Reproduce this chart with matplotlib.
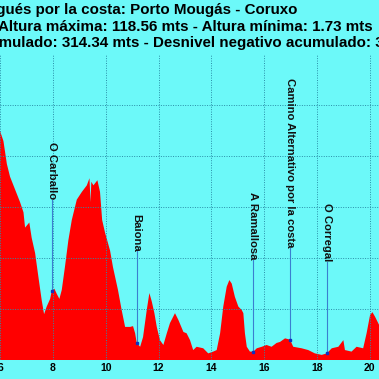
import matplotlib
matplotlib.use("Agg")
import matplotlib.pyplot as plt

# Perfil (km, altura en m)
km = [5.90, 5.99, 6.12, 6.25, 6.37, 6.56, 6.75, 6.88, 6.94, 7.10, 7.19, 7.32, 7.44, 7.57,
      7.66, 7.76, 7.89, 7.95, 8.05, 8.14, 8.24, 8.33, 8.45, 8.58, 8.71, 8.90, 9.09, 9.28,
      9.38, 9.42, 9.45, 9.53, 9.68, 9.78, 9.86, 9.97, 10.16, 10.27, 10.46, 10.60, 10.73,
      10.92, 11.03, 11.11, 11.17, 11.30, 11.41, 11.55, 11.65, 11.74, 11.84, 11.93, 12.05,
      12.18, 12.31, 12.43, 12.62, 12.75, 12.94, 13.06, 13.19, 13.31, 13.44, 13.69, 13.88,
      14.07, 14.20, 14.33, 14.45, 14.58, 14.68, 14.77, 14.89, 15.02, 15.15, 15.21, 15.27,
      15.34, 15.46, 15.59, 15.72, 15.91, 16.09, 16.28, 16.47, 16.60, 16.79, 16.98, 17.10,
      17.42, 17.67, 17.92, 18.18, 18.37, 18.56, 18.81, 19.00, 19.06, 19.31, 19.50, 19.75,
      19.88, 20.01, 20.10, 20.20, 20.39]
altura = [91, 90, 86, 77, 72, 67, 62, 58, 52, 54, 48, 42, 33, 23.5,
          18, 21, 24, 27, 28, 26, 24, 27.5, 36.5, 47, 55, 63, 66, 68.6,
          71.4, 62, 70, 68.6, 70.6, 66, 55, 50, 43, 36.5, 27.5, 19.6, 13,
          13, 13.3, 10.5, 6.7, 5.2, 9, 19.6, 26.3, 23, 18.4, 13, 7.8,
          5.9, 10.5, 14.5, 18.4, 15.7, 11, 10.5, 7.8, 3.9, 5.2, 4.6, 2.6,
          3.3, 3.9, 10.5, 21, 28.8, 31.4, 30, 24.8, 21, 19.6, 18.4, 10.5,
          5.2, 3.3, 3.3, 4.6, 5.2, 5.9, 5.2, 6.7, 7.1, 8.5, 8.0, 5.2,
          4.6, 3.9, 2.6, 2.0, 2.6, 4.6, 5.2, 7.8, 3.9, 3.3, 5.2, 4.6,
          10.5, 17.6, 18.8, 17, 13]

# Puntos de paso
lugares = ["O Carballo", "Baiona", "A Ramallosa", "Camino Alternativo por la costa", "O Corregal"]
lugares_km = [7.95, 11.17, 15.59, 16.98, 18.37]
lugares_alt = [27, 6.7, 3.3, 8.0, 2.6]

xticks = [6, 8, 10, 12, 14, 16, 18, 20]

titulo1 = "Camino Portugués por la costa: Porto Mougás - Coruxo"
titulo2 = "Altura máxima: 118.56 mts - Altura mínima: 1.73 mts"
titulo3 = "Desnivel positivo acumulado: 314.34 mts - Desnivel negativo acumulado: 3"

fondo = "#6CF9F9"
fuente = ["Liberation Sans", "DejaVu Sans"]

fig = plt.figure(figsize=(3.79, 3.79), dpi=100, facecolor=fondo)
ax = fig.add_axes([0, 19 / 379, 1, 305 / 379], facecolor=fondo)

ax.fill_between(km, altura, 0, color="#FF0000", lw=0)
ax.set_xlim(5.99, 20.35)
ax.set_ylim(0, 119.8)

ax.set_xticks(xticks)
ax.set_xticklabels([str(t) for t in xticks], family=fuente, fontweight="bold", fontsize=7.5)
ax.set_yticks([20, 40, 60, 80, 100])
ax.tick_params(axis="x", length=0, pad=2)
ax.tick_params(axis="y", length=0, labelleft=False)
ax.set_axisbelow(False)
ax.grid(True, linestyle=(0, (1, 1.5)), color="#2A8FA8", linewidth=0.7)
for s in ax.spines.values():
    s.set_visible(False)

# Lineas y etiquetas de los puntos de paso
for nombre, x, y in zip(lugares, lugares_km, lugares_alt):
    ax.plot([x, x], [y, y + 36], color="#3A7FD0", lw=0.8, zorder=3)
    ax.plot(x, y, "s", color="#1030C0", ms=2, zorder=4)
    ax.text(x, y + 36, nombre, rotation=270, ha="center", va="bottom",
            family=fuente, fontweight="bold", fontsize=8.1, color="#111111")

# Titulos (recortados por el borde como en el original)
kw = dict(family=fuente, fontweight="bold", fontsize=10.9, color="black", va="center")
fig.text(297 / 379, 1 - 10 / 379, titulo1, ha="right", **kw)
fig.text(373 / 379, 1 - 27 / 379, titulo2, ha="right", **kw)
renderer = fig.canvas.get_renderer()
tmp = fig.text(0, 0, "Desnivel positivo acu", **kw)
ancho = tmp.get_window_extent(renderer).width
tmp.remove()
fig.text(-(ancho + 1) / 379, 1 - 43 / 379, titulo3, ha="left", **kw)

fig.savefig("out.png", dpi=100, facecolor=fondo)
